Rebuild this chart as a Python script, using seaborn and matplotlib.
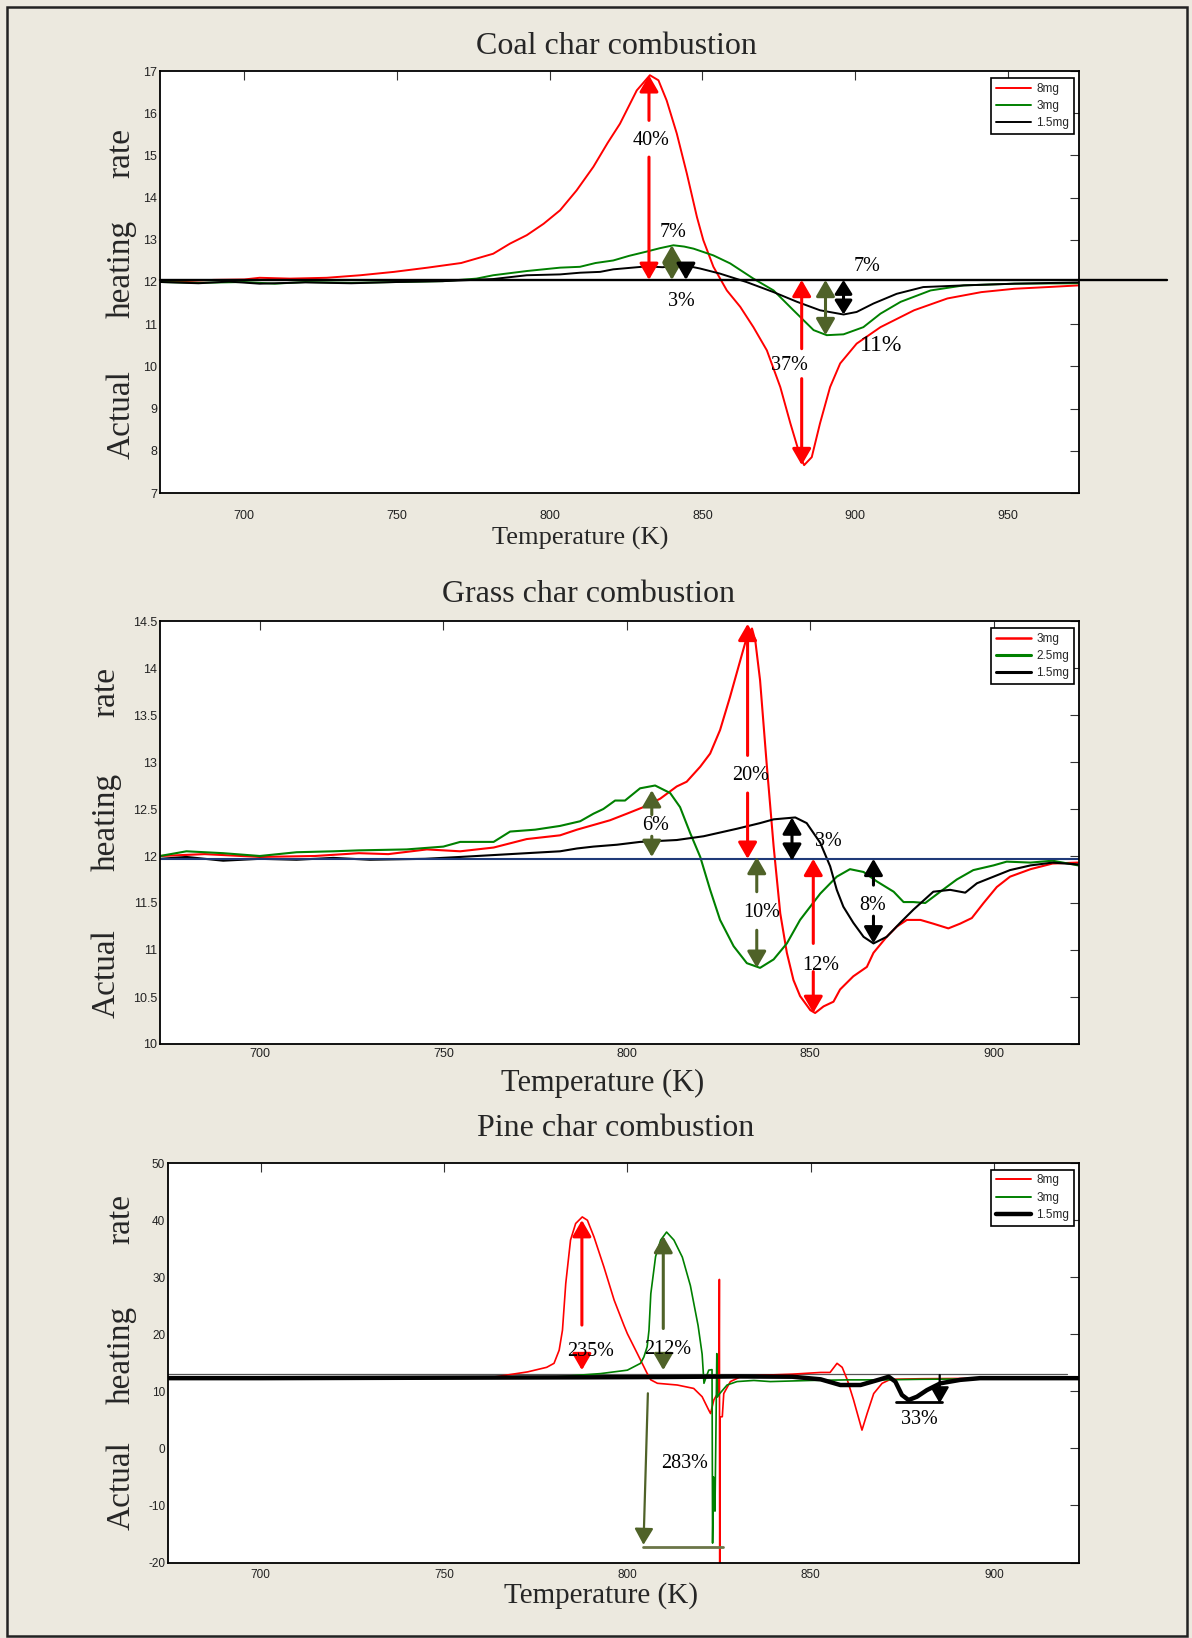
import numpy as np
import pandas as pd
import seaborn as sns
import matplotlib
matplotlib.use('Agg')
import matplotlib.pyplot as plt
from matplotlib.patches import Rectangle

# ---------------- data ----------------
# Coal char combustion
coal_red_T = [672.4, 680, 690, 700, 705, 715, 727, 738, 749, 760, 771, 781.5, 787, 792.5, 798, 803.4, 808.8, 814.3,
              819, 823, 828.5, 832.8, 835.6, 838.3, 841.6, 844.9, 848.2, 850.3, 853.6, 858, 862.4, 866.7, 871.1, 875.5,
              878.8, 882.1, 883.3, 885.8, 888.5, 891.8, 895.1, 900.5, 908.3, 919.3, 930.2, 941.3, 952.2, 963, 973.3]
coal_red_v = [12.0, 12.02, 12.05, 12.06, 12.1, 12.08, 12.1, 12.16, 12.24, 12.34, 12.45, 12.67, 12.91, 13.11, 13.38, 13.70,
              14.17, 14.73, 15.3, 15.75, 16.54, 16.9, 16.78, 16.3, 15.52, 14.57, 13.54, 12.99, 12.36, 11.80, 11.41, 10.93,
              10.38, 9.51, 8.65, 7.85, 7.66, 7.85, 8.65, 9.51, 10.07, 10.54, 10.93, 11.33, 11.61, 11.76, 11.84, 11.88, 11.92]
coal_grn_T = [672.4, 685, 700, 710, 720, 735, 750, 765, 776, 781.5, 792.5, 803.4, 809.9, 815, 820.8, 826, 831.7, 836,
              840.5, 844, 847.1, 853.6, 859.1, 866.7, 873.3, 879.8, 886.4, 890.7, 896.2, 902.7, 908.3, 914.9, 924.7,
              935.6, 952.2, 973.3]
coal_grn_v = [12.0, 11.98, 12.0, 11.96, 12.0, 11.98, 12.0, 12.02, 12.08, 12.16, 12.26, 12.34, 12.36, 12.45, 12.51, 12.62,
              12.72, 12.8, 12.87, 12.84, 12.79, 12.63, 12.44, 12.08, 11.80, 11.33, 10.86, 10.74, 10.76, 10.93, 11.25,
              11.53, 11.80, 11.92, 11.96, 11.97]
coal_blk_T = [672.4, 685, 695, 705, 720, 735, 750, 765, 781.5, 792.5, 803.4, 809.9, 816.5, 820.8, 831.7, 837, 843.7,
              849.2, 855.7, 864.4, 873.3, 881, 888.5, 896.2, 900.5, 906, 913.6, 922.3, 935.6, 952.2, 973.3]
coal_blk_v = [12.0, 11.97, 12.01, 11.96, 11.99, 11.97, 12.0, 12.02, 12.07, 12.16, 12.18, 12.22, 12.24, 12.3, 12.37, 12.35,
              12.40, 12.32, 12.20, 12.0, 11.76, 11.53, 11.33, 11.23, 11.29, 11.49, 11.72, 11.88, 11.92, 11.96, 11.99]
coal_labels = ['8mg', '3mg', '1.5mg']
coal_base_T = [672.4, 1002.0]
coal_base_v = [12.05, 12.05]

# Grass char combustion
grass_red_T = [672.8, 685, 700, 715, 727, 735, 745.5, 754.6, 763.7, 772.7, 781.8, 786.4, 790.9, 795.4, 800, 804.5, 809.1,
               813.6, 816.3, 820, 822.7, 825.4, 828.1, 830.9, 832.7, 834.1, 835, 836.3, 838.1, 840, 841.8, 843.6, 845.4,
               847.2, 850, 851.3, 853.6, 856.3, 858.1, 861.7, 865.4, 867.2, 870.8, 873.6, 876.3, 880, 883.5, 887.6,
               890.8, 894, 897.2, 900.8, 904.4, 910, 916, 923]
grass_red_v = [12.0, 12.02, 11.99, 12.0, 12.03, 12.02, 12.07, 12.05, 12.09, 12.18, 12.22, 12.28, 12.33, 12.38, 12.45,
               12.52, 12.61, 12.74, 12.79, 12.95, 13.09, 13.34, 13.69, 14.08, 14.33, 14.42, 14.29, 13.87, 12.98, 12.10,
               11.39, 10.97, 10.68, 10.51, 10.36, 10.33, 10.40, 10.45, 10.58, 10.72, 10.82, 10.97, 11.14, 11.25, 11.32,
               11.32, 11.28, 11.23, 11.28, 11.34, 11.50, 11.67, 11.78, 11.86, 11.92, 11.93]
grass_grn_T = [672.8, 680, 690, 700, 710, 720, 727, 740, 750, 754.6, 763.7, 768.2, 775, 781.8, 787.3, 790.9, 793.6,
               796.8, 799.5, 803.6, 807.7, 811.8, 814.5, 817.3, 820, 822.7, 825.4, 829.1, 832.7, 836.3, 840, 843.6,
               847.2, 852.7, 857.2, 860.8, 864.5, 868.1, 872.7, 875.4, 878.1, 881.3, 885.4, 889.9, 894.4, 899.9, 903.5,
               910, 916, 923]
grass_grn_v = [12.0, 12.05, 12.03, 12.0, 12.04, 12.05, 12.06, 12.07, 12.1, 12.15, 12.15, 12.26, 12.28, 12.32, 12.37,
               12.45, 12.50, 12.59, 12.59, 12.72, 12.75, 12.67, 12.52, 12.24, 11.99, 11.64, 11.32, 11.04, 10.86, 10.81,
               10.90, 11.07, 11.32, 11.60, 11.78, 11.86, 11.83, 11.73, 11.62, 11.51, 11.51, 11.50, 11.62, 11.75, 11.85,
               11.90, 11.94, 11.93, 11.95, 11.90]
grass_blk_T = [672.8, 680, 690, 700, 710, 720, 730, 745, 754.6, 763.7, 772.7, 781.8, 786.4, 790.9, 797.3, 803.6, 813.6,
               820.9, 830, 836.3, 840, 845.9, 849, 852.7, 855.4, 857.2, 859, 861.7, 864.5, 867.2, 870.8, 874.5, 878.1,
               883.5, 888.1, 892.2, 895.4, 899.9, 904.4, 910, 916, 923]
grass_blk_v = [11.97, 11.99, 11.95, 11.97, 11.96, 11.98, 11.96, 11.97, 11.99, 12.01, 12.03, 12.05, 12.08, 12.10, 12.12,
               12.15, 12.17, 12.21, 12.29, 12.35, 12.39, 12.41, 12.35, 12.14, 11.89, 11.64, 11.46, 11.29, 11.14, 11.07,
               11.14, 11.29, 11.43, 11.62, 11.64, 11.61, 11.71, 11.78, 11.85, 11.90, 11.93, 11.91]
grass_labels = ['3mg', '2.5mg', '1.5mg']
grass_base_T = [672.8, 923.2]
grass_base_v = [11.97, 11.97]

# Pine char combustion
pine_red_T = [674.7, 700, 735, 750, 763.6, 772.8, 778, 780, 781.4, 782.3, 783.2, 784.5, 785.9, 787.7, 789.1, 790.9,
              793.6, 796.4, 799.1, 800, 802.7, 805.4, 806.4, 808.2, 813.6, 818.1, 820.4, 822.2, 822.7, 823.6, 824.5,
              825.0, 825.1, 825.2, 825.3, 825.9, 826.3, 828.1, 830.9, 836.3, 845, 852.7, 855.3, 857.2, 858.6, 860,
              861.7, 864, 865.4, 867.2, 869.5, 871.8, 880, 900, 923]
pine_red_v = [12.3, 12.3, 12.3, 12.4, 12.5, 13.4, 14.2, 14.9, 17.2, 20.7, 28.9, 36.5, 39.4, 40.55, 39.97, 37.05, 31.8,
              25.97, 21.5, 20.1, 16.64, 13.14, 12.0, 11.4, 11.1, 10.5, 9.05, 6.7, 6.1, 8.5, 9.5, 10.0, 29.6, -22.0,
              5.5, 5.55, 9.6, 11.7, 12.55, 12.8, 13.0, 13.3, 13.3, 14.9, 14.2, 12.0, 8.5, 3.2, 6.1, 9.6, 11.4, 12.1,
              12.2, 12.3, 12.3]
pine_grn_T = [674.7, 700, 730, 760, 780, 792.7, 800, 801.8, 803.6, 804.5, 805.4, 805.9, 806.4, 807.7, 809.1, 810.7,
              812.7, 815, 817.2, 819.3, 820.4, 820.9, 821.5, 822.2, 823.1, 823.25, 823.5, 823.7, 823.9, 824.2, 824.4,
              824.6, 825.2, 827.2, 829.9, 834.5, 839, 850, 860, 870, 880, 900, 923]
pine_grn_v = [12.2, 12.2, 12.2, 12.3, 12.5, 13.1, 13.7, 14.3, 14.9, 16.0, 17.8, 20.7, 27.1, 33.6, 36.5, 37.9, 36.5,
              33.5, 28.5, 21.5, 16.5, 11.4, 12.5, 13.7, 13.8, -16.6, -5.0, -8.0, -11.0, 5.0, 16.6, 9.0, 9.6, 11.1,
              11.7, 11.9, 11.7, 11.9, 12.0, 12.0, 12.1, 12.2, 12.2]
pine_blk_T = [674.7, 700, 730, 760, 790, 810, 830, 845, 852.7, 858.1, 863.6, 869, 871.3, 873.1, 874.9, 876.7, 879,
              881.7, 885.4, 890.8, 896.2, 910, 923]
pine_blk_v = [12.3, 12.3, 12.35, 12.4, 12.45, 12.5, 12.6, 12.55, 12.1, 11.1, 11.1, 12.1, 12.55, 11.7, 9.35, 8.47, 9.05,
              10.2, 11.4, 12.0, 12.3, 12.3, 12.3]
pine_labels = ['8mg', '3mg', '1.5mg']
pine_ref_T = [674.7, 920.0]
pine_ref_v = [13.0, 13.0]

coal_yticks = list(range(7, 18))
grass_yticks = [10, 10.5, 11, 11.5, 12, 12.5, 13, 13.5, 14, 14.5]
grass_ytick_labels = ['10', '10.5', '11', '11.5', '12', '12.5', '13', '13.5', '14', '14.5']
pine_yticks = list(range(-20, 51, 10))
coal_xticks = [700, 750, 800, 850, 900, 950]
grass_xticks = [700, 750, 800, 850, 900]

# ---------------- style ----------------
sns.set_theme(style='white')
plt.rcParams['font.family'] = ['Liberation Sans', 'DejaVu Sans']
plt.rcParams['axes.unicode_minus'] = False
SERIF = ['Liberation Serif', 'DejaVu Serif']

W, H = 1192, 1638
fig = plt.figure(figsize=(W / 100, H / 100), dpi=100)
fig.patch.set_facecolor('#ECE9DF')
fig.add_artist(Rectangle((6.5 / W, 2.5 / H), (1187 - 6.5) / W, (1631 - 2.5) / H, transform=fig.transFigure,
                         fill=False, edgecolor='#222222', lw=1.8))

RED = '#FF0000'
GRN = '#008000'
OLV = '#4F6228'
BLK = '#000000'


def ax_at(l, t, r, b):
    ax = fig.add_axes([l / W, 1 - b / H, (r - l) / W, (b - t) / H])
    ax.set_facecolor('white')
    for s in ax.spines.values():
        s.set_visible(True)
        s.set_color('black')
        s.set_linewidth(1.3)
    return ax


def style_ticks(ax, xpad, size=9):
    ax.tick_params(axis='both', direction='in', length=6.5, width=0.8, top=True, right=True,
                   labelsize=size, labelcolor='#222222', color='#333333')
    ax.tick_params(axis='x', pad=xpad)
    ax.tick_params(axis='y', pad=2)
    ax.grid(False)


def arrow(ax, x0, y0, x1, y1, color, lw=2.2, hl=0.45, hw=0.26, ms=22, style='-|>'):
    ax.annotate('', xy=(x1, y1), xytext=(x0, y0),
                arrowprops=dict(arrowstyle=f'{style},head_length={hl},head_width={hw}', color=color, lw=lw,
                                shrinkA=0, shrinkB=0, mutation_scale=ms))


def darrow(ax, x, y0, y1, color, gap=None, **kw):
    if gap is None:
        arrow(ax, x, y0, x, y1, color, style='<|-|>', **kw)
    else:
        arrow(ax, x, gap[0], x, y0, color, **kw)
        arrow(ax, x, gap[1], x, y1, color, **kw)


def pct(ax, x, y, s, size=14.5):
    ax.text(x, y, s, ha='center', va='center', fontsize=size, family=SERIF, color='black')


def legend(ax, lws):
    leg = ax.legend(loc='upper right', bbox_to_anchor=(1 - 5 / 919, 1 - 7 / 422), borderaxespad=0,
                    fontsize=8.5, frameon=True, fancybox=False, edgecolor='black', framealpha=1,
                    handlelength=3.0, handletextpad=0.45, labelspacing=0.45, borderpad=0.4)
    leg.get_frame().set_linewidth(1.2)
    for h, w in zip(leg.get_lines(), lws):
        h.set_linewidth(w)


def series(ax, T, v, color, lw, label=None):
    sns.lineplot(x=T, y=v, ax=ax, color=color, lw=lw, label=label, estimator=None, sort=False)


def ylabel_words(ys, x=121):
    for word, y in zip(['rate', 'heating', 'Actual'], ys):
        fig.text(x / W, 1 - y / H, word, rotation=90, ha='center', va='center', fontsize=24, family=SERIF)


# ---------------- panel 1: coal ----------------
ax1 = ax_at(160, 71, 1079, 493)
series(ax1, coal_red_T, coal_red_v, RED, 1.4, coal_labels[0])
series(ax1, coal_grn_T, coal_grn_v, GRN, 1.4, coal_labels[1])
series(ax1, coal_blk_T, coal_blk_v, BLK, 1.4, coal_labels[2])
ax1.plot(coal_base_T, coal_base_v, color=BLK, lw=1.7, clip_on=False)
ax1.set_xlim(672.4, 973.3)
ax1.set_ylim(7, 17)
ax1.set_xticks(coal_xticks)
ax1.set_yticks(coal_yticks)
ax1.set_xlabel('')
ax1.set_ylabel('')
style_ticks(ax1, xpad=12)
legend(ax1, [1.4, 1.4, 1.4])

darrow(ax1, 832.5, 12.05, 16.9, RED, gap=(14.96, 15.83))
pct(ax1, 833.2, 15.36, '40%')
darrow(ax1, 840.0, 12.05, 12.87, OLV)
pct(ax1, 840.5, 13.17, '7%')
arrow(ax1, 844.6, 12.42, 844.6, 12.05, BLK)
pct(ax1, 843.2, 11.53, '3%')
darrow(ax1, 882.5, 12.05, 7.66, RED, gap=(10.42, 9.71))
pct(ax1, 878.5, 10.03, '37%')
darrow(ax1, 890.3, 12.05, 10.74, OLV)
darrow(ax1, 896.2, 12.05, 11.23, BLK, hl=0.38, hw=0.24)
pct(ax1, 904.0, 12.36, '7%')
pct(ax1, 908.6, 10.5, '11%', size=17)

fig.text(616 / W, 1 - 47 / H, 'Coal char combustion', ha='center', va='center', fontsize=23, family=SERIF)
fig.text(580 / W, 1 - 538 / H, 'Temperature (K)', ha='center', va='center', fontsize=19, family=SERIF)
ylabel_words([153, 269, 415])

# ---------------- panel 2: grass ----------------
ax2 = ax_at(160, 621, 1079, 1044)
series(ax2, grass_red_T, grass_red_v, RED, 1.5, grass_labels[0])
series(ax2, grass_grn_T, grass_grn_v, GRN, 1.5, grass_labels[1])
series(ax2, grass_blk_T, grass_blk_v, BLK, 1.5, grass_labels[2])
ax2.plot(grass_base_T, grass_base_v, color='#1F3A78', lw=1.5)
ax2.set_xlim(672.8, 923.2)
ax2.set_ylim(10, 14.5)
ax2.set_xticks(grass_xticks)
ax2.set_yticks(grass_yticks)
ax2.set_yticklabels(grass_ytick_labels)
ax2.set_xlabel('')
ax2.set_ylabel('')
style_ticks(ax2, xpad=3)
legend(ax2, [1.8, 2.2, 2.2])

darrow(ax2, 832.9, 11.97, 14.47, RED, gap=(12.67, 13.07))
pct(ax2, 833.6, 12.86, '20%')
darrow(ax2, 806.8, 11.99, 12.70, OLV, gap=(12.21, 12.44))
pct(ax2, 807.7, 12.32, '6%')
darrow(ax2, 835.4, 11.99, 10.81, OLV, gap=(11.62, 11.21))
pct(ax2, 836.8, 11.40, '10%')
darrow(ax2, 845.0, 11.95, 12.41, BLK)
pct(ax2, 854.9, 12.15, '3%')
darrow(ax2, 850.8, 11.97, 10.33, RED, gap=(11.07, 10.77))
pct(ax2, 852.7, 10.84, '12%')
darrow(ax2, 867.2, 11.97, 11.07, BLK, gap=(11.69, 11.36))
pct(ax2, 866.9, 11.47, '8%')

fig.text(588 / W, 1 - 595 / H, 'Grass char combustion', ha='center', va='center', fontsize=23, family=SERIF)
fig.text(603 / W, 1 - 1083 / H, 'Temperature (K)', ha='center', va='center', fontsize=22, family=SERIF)
ylabel_words([692, 822, 974], x=106)

# ---------------- panel 3: pine ----------------
ax3 = ax_at(168, 1163, 1079, 1562.5)
ax3.plot(pine_ref_T, pine_ref_v, color='#555555', lw=0.9)
series(ax3, pine_red_T, pine_red_v, RED, 1.2, pine_labels[0])
series(ax3, pine_grn_T, pine_grn_v, GRN, 1.2, pine_labels[1])
series(ax3, pine_blk_T, pine_blk_v, BLK, 3.2, pine_labels[2])
ax3.set_xlim(674.7, 923.2)
ax3.set_ylim(-20, 50)
ax3.set_xticks(grass_xticks)
ax3.set_yticks(pine_yticks)
ax3.set_xlabel('')
ax3.set_ylabel('')
style_ticks(ax3, xpad=5, size=8.5)
legend(ax3, [1.4, 1.4, 3.2])

darrow(ax3, 787.6, 13.7, 40.0, RED, gap=(16.3, 21.6))
pct(ax3, 790.0, 17.0, '235%')
darrow(ax3, 809.8, 13.7, 37.2, OLV, gap=(16.6, 21.0))
pct(ax3, 811.1, 17.3, '212%')
arrow(ax3, 805.6, 9.65, 804.4, -16.9, OLV, lw=1.6)
ax3.plot([804.4, 826.0], [-17.2, -17.2], color='#6B7548', lw=2.0)
pct(ax3, 815.6, -2.6, '283%')
ax3.plot([873.4, 885.8], [8.2, 8.2], color=BLK, lw=2.0)
arrow(ax3, 885.2, 12.85, 885.2, 7.9, BLK, lw=1.6)
pct(ax3, 879.7, 5.0, '33%')

fig.text(616 / W, 1 - 1129 / H, 'Pine char combustion', ha='center', va='center', fontsize=23, family=SERIF)
fig.text(601 / W, 1 - 1596 / H, 'Temperature (K)', ha='center', va='center', fontsize=21, family=SERIF)
ylabel_words([1219, 1355, 1486])

fig.savefig('out.png', dpi=100, facecolor=fig.get_facecolor())
